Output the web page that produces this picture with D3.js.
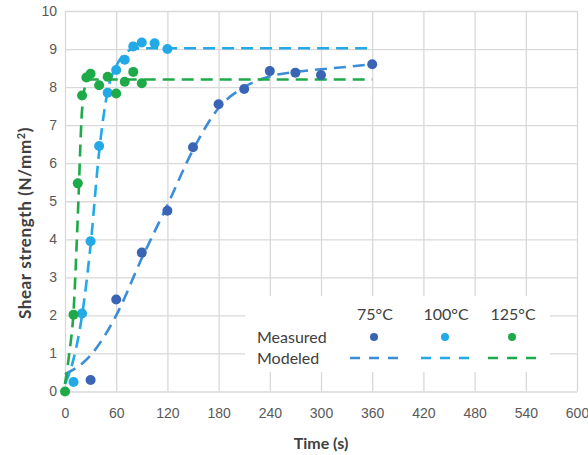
<!DOCTYPE html>
<html>
<head>
<meta charset="utf-8">
<script src="https://cdn.jsdelivr.net/npm/d3@7/dist/d3.min.js"></script>
<style>
  body { margin: 0; background: #fff; }
  svg { display: block; font-family: Lato, "Open Sans", sans-serif; }
  .grid line { stroke: #d9d9d9; stroke-width: 1.3; }
  .grid .domain { display: none; }
  .grid text { fill: #595959; font-size: 14px; }
  .axis-title { fill: #404040; font-weight: bold; font-size: 16px; }
  .legend text { fill: #404040; font-size: 16px; }
</style>
</head>
<body>
<svg id="chart" width="588" height="455"></svg>
<script>
// tick labels
const xTickValues = [0, 60, 120, 180, 240, 300, 360, 420, 480, 540, 600];
const yTickValues = [0, 1, 2, 3, 4, 5, 6, 7, 8, 9, 10];

// measured points
const measured75Time = [30, 60, 90, 120, 150, 180, 210, 240, 270, 300, 360];
const measured75 = [0.3, 2.42, 3.65, 4.75, 6.42, 7.55, 7.95, 8.42, 8.38, 8.32, 8.6];

const measured100Time = [10, 20, 30, 40, 50, 60, 70, 80, 90, 105, 120];
const measured100 = [0.25, 2.05, 3.95, 6.45, 7.85, 8.45, 8.72, 9.07, 9.17, 9.15, 9.0];

const measured125Time = [0, 10, 15, 20, 25, 30, 40, 50, 60, 70, 80, 90];
const measured125 = [0, 2.02, 5.47, 7.78, 8.25, 8.35, 8.05, 8.27, 7.83, 8.14, 8.4, 8.1];

// modeled curves
const model75Time = [0, 30, 60, 90, 120, 150, 180, 210, 240, 270, 300, 330, 360];
const model75 = [0.45, 0.95, 2.0, 3.5, 4.9, 6.35, 7.45, 8.0, 8.28, 8.4, 8.47, 8.53, 8.6];

const model100Time = [0, 10, 20, 30, 40, 50, 60, 70, 80, 90, 120, 360];
const model100 = [0.2, 0.85, 2.0, 3.85, 6.3, 7.9, 8.55, 8.88, 9.0, 9.02, 9.02, 9.02];

const model125Time = [0, 5, 10, 15, 20, 25, 30, 360];
const model125 = [0.2, 1.0, 2.1, 4.6, 7.4, 8.12, 8.2, 8.2];

const temperatures = ["75°C", "100°C", "125°C"];

const pointColors = ["#3a65b5", "#22a9e6", "#1faa4a"];
const lineColors = ["#3b8dd8", "#22a9e6", "#1faa4a"];

const svg = d3.select("#chart");
const plotLeft = 65, plotRight = 577, plotTop = 11, plotBottom = 391.5;

const x = d3.scaleLinear().domain([0, 600]).range([plotLeft, plotRight]);
const y = d3.scaleLinear().domain([0, 10]).range([plotBottom, plotTop]);

svg.append("rect").attr("width", 588).attr("height", 455).attr("fill", "#fff");

// gridlines + labels
svg.append("g")
  .attr("class", "grid")
  .attr("transform", `translate(0, ${plotBottom})`)
  .call(d3.axisBottom(x).tickValues(xTickValues).tickSize(-(plotBottom - plotTop)).tickPadding(17));

svg.append("g")
  .attr("class", "grid")
  .attr("transform", `translate(${plotLeft}, 0)`)
  .call(d3.axisLeft(y).tickValues(yTickValues).tickSize(-(plotRight - plotLeft)).tickPadding(8));

const zip = (ts, vs) => ts.map((t, i) => ({ t, v: vs[i] }));

const line = d3.line()
  .x((d) => x(d.t))
  .y((d) => y(d.v))
  .curve(d3.curveMonotoneX);

const models = [zip(model75Time, model75), zip(model100Time, model100), zip(model125Time, model125)];
const points = [
  zip(measured75Time, measured75),
  zip(measured100Time, measured100),
  zip(measured125Time, measured125),
];

models.forEach((m, i) => {
  svg.append("path")
    .attr("d", line(m))
    .attr("fill", "none")
    .attr("stroke", lineColors[i])
    .attr("stroke-width", 2.6)
    .attr("stroke-dasharray", "12,7");
});

points.forEach((p, i) => {
  svg.append("g")
    .selectAll("circle")
    .data(p)
    .join("circle")
    .attr("cx", (d) => x(d.t))
    .attr("cy", (d) => y(d.v))
    .attr("r", 5)
    .attr("fill", pointColors[i]);
});

// axis titles
svg.append("text")
  .attr("class", "axis-title")
  .attr("x", (plotLeft + plotRight) / 2)
  .attr("y", 449)
  .attr("text-anchor", "middle")
  .text("Time (s)");

const yTitle = svg.append("text")
  .attr("class", "axis-title")
  .attr("transform", "translate(31, 223) rotate(-90)")
  .attr("text-anchor", "middle")
  .style("font-size", "17px")
  .style("letter-spacing", "0.6px")
  .text("Shear strength (N/mm");
yTitle.append("tspan").attr("dy", -6).attr("font-size", "11px").text("2");
yTitle.append("tspan").attr("dy", 6).text(")");

// legend
const legend = svg.append("g").attr("class", "legend");
legend.append("rect")
  .attr("x", 245).attr("y", 296)
  .attr("width", 305).attr("height", 76)
  .attr("fill", "#fff");

legend.append("text").attr("x", 257).attr("y", 343).text("Measured");
legend.append("text").attr("x", 257).attr("y", 364).text("Modeled");

const colX = [375, 446, 513];
temperatures.forEach((t, i) => {
  legend.append("text")
    .attr("x", colX[i])
    .attr("y", 320)
    .attr("text-anchor", "middle")
    .text(t);
  legend.append("circle")
    .attr("cx", colX[i] - 1)
    .attr("cy", 337)
    .attr("r", 4)
    .attr("fill", pointColors[i]);
  legend.append("line")
    .attr("x1", colX[i] - 25).attr("x2", colX[i] + 24)
    .attr("y1", 358).attr("y2", 358)
    .attr("stroke", lineColors[i])
    .attr("stroke-width", 2.6)
    .attr("stroke-dasharray", "10,9");
});
</script>
</body>
</html>
